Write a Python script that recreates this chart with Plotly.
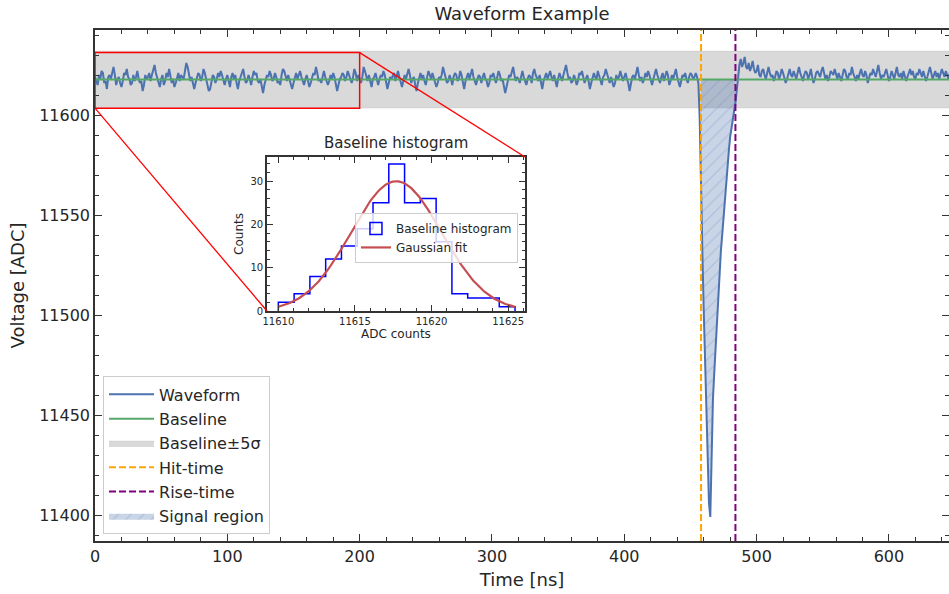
import math
import plotly.graph_objects as go

# ---------------- data ----------------
sample_ns = 1.0
adc_reference = 11618
# waveform samples, ADC counts relative to adc_reference
pre_pulse_offsets = [  # t = 0 .. 455 ns
    1, -1, -3, 2, 0, 4, 3, -2, -1, -5, 1, 2, 0, 3, 6, 2, -3, 0, 1, -2, -4, -1, 3, 2, 5,
    1, 0, -3, -2, 2, -1, 1, 4, 0, -2, -1, -6, -3, 2, 0, 1, 3, -1, 2, 4, 7, 3, 1, -1, -4,
    0, 2, -3, -1, 3, 1, 5, 2, -2, 0, -4, -2, 1, 3, -1, 2, 1, 0, 4, 8, 6, 2, -1, 1, -2,
    -5, -2, 0, 3, 2, -1, 1, 5, 3, 0, -3, -6, -5, -1, 2, 1, -2, 0, 3, 1, 4, 2, -1, -3, 0,
    2, -1, -4, 1, 3, 0, 2, -2, -5, -1, 1, 3, 5, 1, -2, -1, 2, 0, -3, 1, 4, 2, 3, -1, -2,
    0, -4, -7, -3, 0, 2, 1, 4, 2, -1, 0, 3, 1, -2, -1, -3, 2, 5, 4, 1, -1, 2, 0, -2, -5,
    -2, 1, 3, 0, 2, 4, 1, -1, -3, 0, 2, -1, -4, -2, 1, 3, 2, 6, 3, -1, 0, -2, 1, 4, 1,
    -1, -3, -1, 2, 0, 3, 1, -2, -6, -3, 0, 1, 3, 2, -1, 1, 4, 2, 0, -2, 1, 5, 3, -1, 2,
    0, -2, 1, 6, 4, 1, -1, 2, -2, -4, 0, 1, 3, -1, -3, 0, 2, 1, 4, 2, -1, -5, -2, 1, 0,
    2, 3, -1, 1, 4, 1, -2, -4, -1, 2, 0, 3, 5, 2, -2, 0, 1, -3, -6, -2, 1, 3, 0, 2, -1,
    -3, 1, 4, 2, 0, 3, 1, -1, -4, -2, 1, 0, 2, 6, 3, 1, -2, -1, 2, 0, -3, 1, 3, 2, -1,
    0, 4, 2, -2, -5, -1, 1, 3, 0, 2, 5, 1, -1, -3, 0, 2, 1, -2, 1, 3, 0, -1, -4, -2, 2,
    1, 3, 0, -2, 1, 4, 2, -1, 0, -3, -7, -4, 0, 2, 1, 3, 6, 2, -1, 1, 0, -2, 2, 4, 1,
    -1, -3, 0, 2, 1, -2, 3, 5, 2, 0, -1, 2, -2, -5, -1, 1, 3, 0, 2, 4, 1, -1, 2, -2, -4,
    0, 3, 1, -1, 2, 5, 7, 3, 0, 1, -2, -1, 2, 0, -3, -1, 3, 2, 4, 1, -2, 0, 2, -1, -5,
    -2, 1, 3, 1, 0, 4, 2, -1, -3, 1, 2, 5, 3, 0, -2, 1, -1, -4, -2, 2, 0, 1, 4, 2, -1,
    1, 3, 0, -2, -6, -3, 1, 2, 0, 3, 6, 2, -1, 1, -2, 0, 3, 1, 4, 2, -1, -3, 0, 2, 5,
    2, 0, -2, 1, 3, -1, 1, 4, 2, -3, -1, 2, 0, 3, 5, 1, -1, -4, -1, 2, 1, 3, 0, -2, 1,
    3, 2, 0, 1, 3, 1,
]
pulse_offsets = [  # t = 456 .. 486 ns
    -2, -20, -46, -86, -115, -142, -170, -195, -212, -219,
    -188, -160, -147, -134, -122, -109, -97, -86, -78, -69,
    -60, -52, -43, -36, -29, -24, -20, -16, -12, -5, 1,
]
post_pulse_offsets = [  # t = 487 .. 649 ns
    7, 10, 6, 8, 11, 6, 5, 8, 4, 6, 9, 5, 3, 4, 7, 2, 1, 4, 5, 2, 0, 3, 6, 3, 1,
    2, -1, 1, 4, 3, 0, 2, 5, 3, 1, -2, 0, 3, 5, 2, 1, 4, 2, 0, 3, 6, 3, 1, -1, 2,
    4, 3, 0, 2, 5, 1, -2, 0, 3, 4, 2, 1, 4, 6, 3, 0, 2, -1, 1, 4, 3, 2, 5, 2, 0,
    3, 1, -1, 2, 5, 4, 1, 0, 3, 2, 6, 3, 1, -1, 2, 0, 3, 5, 2, 1, 4, 2, -2, 0, 3,
    2, 5, 3, 1, 4, 7, 3, 0, 2, 1, 3, 5, 2, -1, 1, 4, 2, 0, 3, 6, 2, 1, 3, 0, 4,
    2, -1, 1, 3, 5, 2, 4, 1, 0, 3, 2, 5, 3, 1, 4, 2, -1, 1, 3, 6, 3, 0, 2, 4, 1,
    3, 0, 2, 5, 3, 1, 4, 2, 0, 3, 5, 2, 4,
]

baseline_adc = 11617.7
baseline_sigma = 2.85
hit_time_ns = 458
rise_time_ns = 484
zoom_box_time = [0, 200]
zoom_box_adc = [11603.4, 11631.2]

hist_edges = [11610.00, 11611.03, 11612.06, 11613.09, 11614.12, 11615.15, 11616.18,
              11617.21, 11618.24, 11619.27, 11620.30, 11621.33, 11622.36, 11623.39,
              11624.42, 11625.45]
hist_counts = [2, 4, 8, 12, 15, 19, 25, 34, 25, 26, 16, 4, 3, 3, 1]
gauss_amp = 30.0
gauss_mean = 11617.7
gauss_sigma = 2.95

x_range = [0, 645.4]
y_range = [11387.0, 11642.5]
inset_x_range = [11609.26, 11626.1]
inset_y_range = [0, 35.6]
inset_dom_x = [0.2014, 0.5035]
inset_dom_y = [0.4501, 0.7515]

# ---------------- styles ----------------
FONT = "DejaVu Sans"
TXT = "#262626"
SPINE = "#333333"
C_WAVE = "#4C72B0"
C_BASE = "#55A868"
C_FIT = "#C44E52"

offsets = pre_pulse_offsets + pulse_offsets + post_pulse_offsets
t = [i * sample_ns for i in range(len(offsets))]
wf = [adc_reference + v for v in offsets]

fig = go.Figure()

# baseline band
lo = baseline_adc - 5 * baseline_sigma
hi = baseline_adc + 5 * baseline_sigma
fig.add_trace(go.Scatter(
    x=[t[0], t[-1], t[-1], t[0], t[0]], y=[lo, lo, hi, hi, lo],
    mode="lines", fill="toself", fillcolor="rgba(128,128,128,0.3)",
    line=dict(width=0.6, color="rgba(128,128,128,0.25)"),
    name="Baseline±5σ", legendrank=3, legendgroup="g3", hoverinfo="skip"))

# signal region
idx = [i for i, tv in enumerate(t) if hit_time_ns <= tv <= rise_time_ns]
sx = [t[i] for i in idx]
sy = [wf[i] for i in idx]
fig.add_trace(go.Scatter(
    x=sx + sx[::-1], y=sy + [baseline_adc] * len(sx),
    mode="lines", fill="toself", fillcolor="rgba(76,114,176,0.3)",
    fillpattern=dict(shape="/", fgcolor="rgba(76,114,176,0.5)",
                     bgcolor="rgba(76,114,176,0.3)", size=9, solidity=0.12),
    line=dict(width=0), name="Signal region", legendrank=6, legendgroup="g6",
    hoverinfo="skip"))

# waveform
fig.add_trace(go.Scatter(x=t, y=wf, mode="lines",
                         line=dict(color=C_WAVE, width=2), name="Waveform",
                         legendrank=1, legendgroup="g1"))
# baseline
fig.add_trace(go.Scatter(x=[t[0], t[-1]], y=[baseline_adc, baseline_adc],
                         mode="lines", line=dict(color=C_BASE, width=2),
                         name="Baseline", legendrank=2, legendgroup="g2"))
# hit / rise time
fig.add_trace(go.Scatter(x=[hit_time_ns, hit_time_ns], y=y_range, mode="lines",
                         line=dict(color="#FFA500", width=2, dash="7px,3px"),
                         name="Hit-time", legendrank=4, legendgroup="g4"))
fig.add_trace(go.Scatter(x=[rise_time_ns, rise_time_ns], y=y_range, mode="lines",
                         line=dict(color="#800080", width=2, dash="7px,3px"),
                         name="Rise-time", legendrank=5, legendgroup="g5"))
# dummy for right-side ticks axis
fig.add_trace(go.Scatter(x=[None], y=[None], yaxis="y3", showlegend=False))

# ---------------- inset ----------------
hx, hy = [hist_edges[0]], [0]
for i, c in enumerate(hist_counts):
    hx += [hist_edges[i], hist_edges[i + 1]]
    hy += [c, c]
hx.append(hist_edges[-1]); hy.append(0)
fig.add_trace(go.Scatter(x=hx, y=hy, mode="lines", xaxis="x2", yaxis="y2",
                         line=dict(color="#0000FF", width=1.5), showlegend=False))
fig.add_trace(go.Bar(x=[None], y=[None], xaxis="x2", yaxis="y2",
                     marker=dict(color="rgba(0,0,0,0)", line=dict(color="#0000FF", width=1.5)),
                     name="Baseline histogram", legend="legend2"))
n_fit = 200
gx = [hist_edges[0] + (hist_edges[-1] - hist_edges[0]) * k / (n_fit - 1) for k in range(n_fit)]
gy = [gauss_amp * math.exp(-0.5 * ((v - gauss_mean) / gauss_sigma) ** 2) for v in gx]
fig.add_trace(go.Scatter(x=gx, y=gy, mode="lines", xaxis="x2", yaxis="y2",
                         line=dict(color=C_FIT, width=2.2), name="Gaussian fit",
                         legend="legend2"))

# ---------------- shapes ----------------
def px(v):
    return (v - x_range[0]) / (x_range[1] - x_range[0])

def py(v):
    return (v - y_range[0]) / (y_range[1] - y_range[0])

shapes = [
    dict(type="rect", xref="x", yref="y", x0=zoom_box_time[0], x1=zoom_box_time[1],
         y0=zoom_box_adc[0], y1=zoom_box_adc[1], line=dict(color="red", width=1.5),
         layer="above"),
    dict(type="line", xref="paper", yref="paper", x0=px(zoom_box_time[0]), y0=py(zoom_box_adc[0]),
         x1=inset_dom_x[0], y1=inset_dom_y[0], line=dict(color="red", width=1.3), layer="above"),
    dict(type="line", xref="paper", yref="paper", x0=px(zoom_box_time[1]), y0=py(zoom_box_adc[1]),
         x1=inset_dom_x[1], y1=inset_dom_y[1], line=dict(color="red", width=1.3), layer="above"),
]

axis_common = dict(showgrid=False, zeroline=False, showline=True, linecolor=SPINE,
                   linewidth=1.5, ticks="inside", tickcolor=SPINE, tickwidth=1.2,
                   tickfont=dict(family=FONT, size=16, color=TXT))

fig.update_layout(
    width=949, height=594,
    margin=dict(l=95, r=0, t=30, b=53),
    plot_bgcolor="white", paper_bgcolor="white",
    font=dict(family=FONT, color=TXT),
    showlegend=True,
    title=dict(text="Waveform Example", x=0.5, xref="paper", xanchor="center",
               y=1 - 14 / 594, yref="container", yanchor="middle",
               font=dict(family=FONT, size=18, color=TXT)),
    xaxis=dict(**axis_common, range=x_range, dtick=100, tick0=0, ticklen=7, mirror="ticks",
               tickformat="d",
               minor=dict(ticks="inside", dtick=20, ticklen=4, tickcolor=SPINE, tickwidth=1),
               title=dict(text="Time [ns]", font=dict(family=FONT, size=18, color=TXT), standoff=8),
               domain=[0, 1], anchor="y"),
    yaxis=dict(**axis_common, range=y_range, dtick=50, tick0=11400, ticklen=7, mirror=False,
               tickformat="d",
               minor=dict(ticks="inside", dtick=10, ticklen=4, tickcolor=SPINE, tickwidth=1),
               title=dict(text="Voltage [ADC]", font=dict(family=FONT, size=18, color=TXT), standoff=10),
               domain=[0, 1], anchor="x"),
    yaxis3=dict(overlaying="y", side="right", anchor="x", range=y_range, showgrid=False,
                zeroline=False, showline=False, ticks="inside", ticklen=7, tickcolor=SPINE,
                tickwidth=1.2, dtick=50, tick0=11400, showticklabels=False,
                minor=dict(ticks="inside", dtick=10, ticklen=4, tickcolor=SPINE, tickwidth=1)),
    xaxis2=dict(showgrid=False, zeroline=False, showline=True, linecolor=SPINE, linewidth=1.6,
                mirror="ticks", ticks="inside", tickcolor=SPINE, ticklen=6, tickwidth=1.2,
                tickfont=dict(family=FONT, size=10, color=TXT), tickformat="d",
                range=inset_x_range, dtick=5, tick0=11610,
                minor=dict(ticks="inside", dtick=1, ticklen=3.5, tickcolor=SPINE, tickwidth=1),
                title=dict(text="ADC counts", font=dict(family=FONT, size=12, color=TXT), standoff=4),
                domain=inset_dom_x, anchor="y2"),
    yaxis2=dict(showgrid=False, zeroline=False, showline=True, linecolor=SPINE, linewidth=1.6,
                mirror="ticks", ticks="inside", tickcolor=SPINE, ticklen=6, tickwidth=1.2,
                tickfont=dict(family=FONT, size=10, color=TXT), tickformat="d",
                range=inset_y_range, dtick=10, tick0=0,
                minor=dict(ticks="inside", dtick=2, ticklen=3.5, tickcolor=SPINE, tickwidth=1),
                title=dict(text="Counts", font=dict(family=FONT, size=12, color=TXT), standoff=4),
                domain=inset_dom_y, anchor="x2"),
    legend=dict(x=0.0094, y=0.322, xanchor="left", yanchor="top",
                bgcolor="rgba(255,255,255,0.8)", bordercolor="#cccccc", borderwidth=1,
                font=dict(family=FONT, size=16, color=TXT), itemwidth=45,
                traceorder="grouped", tracegroupgap=0.5),
    legend2=dict(x=0.3044, y=0.642, xanchor="left", yanchor="top",
                 bgcolor="rgba(255,255,255,0.8)", bordercolor="#cccccc", borderwidth=1,
                 font=dict(family=FONT, size=12, color=TXT), itemwidth=30),
    shapes=shapes,
    annotations=[dict(text="Baseline histogram", xref="paper", yref="paper",
                      x=(inset_dom_x[0] + inset_dom_x[1]) / 2, y=inset_dom_y[1] + 0.006,
                      xanchor="center", yanchor="bottom", showarrow=False,
                      font=dict(family=FONT, size=15, color=TXT))],
)

fig.write_html("out.html")
